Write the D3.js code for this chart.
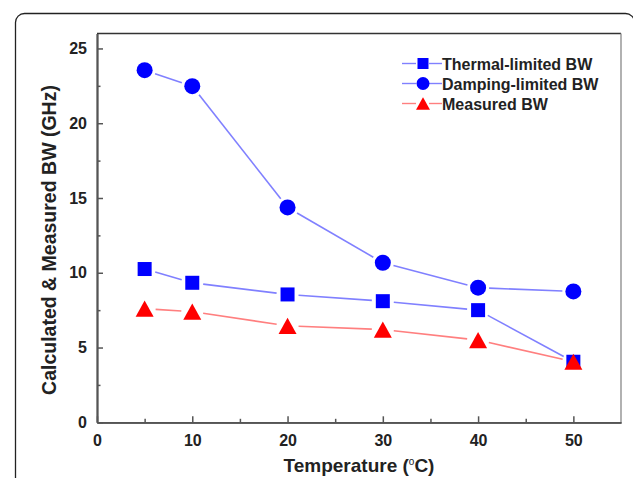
<!DOCTYPE html>
<html>
<head>
<meta charset="utf-8">
<script src="https://cdn.jsdelivr.net/npm/d3@7"></script>
<style>
  body { margin: 0; background: #fff; }
  text { font-family: "Liberation Sans", Arial, sans-serif; font-weight: bold; fill: #222; }
</style>
</head>
<body>
<div class="chart"></div>
<script>
const temps = [5, 10, 20, 30, 40, 50]
const thermalBW = [10.25, 9.33, 8.55, 8.1, 7.5, 4.05]
const dampingBW = [23.55, 22.48, 14.37, 10.67, 9.0, 8.75]
const measuredBW = [7.6, 7.4, 6.45, 6.2, 5.5, 4.05]
const xTicks = [0, 10, 20, 30, 40, 50]
const yTicks = [0, 5, 10, 15, 20, 25]
const seriesNames = ['Thermal-limited BW', 'Damping-limited BW', 'Measured BW']

const W = 633, H = 478
const margin = { top: 33.5, right: 12, bottom: 55.7, left: 97 },
    width = W - margin.left - margin.right,
    height = H - margin.top - margin.bottom

const root = d3.select('.chart')
    .append('svg')
    .attr('width', W)
    .attr('height', H)

// outer rounded frame
root.append('rect')
    .attr('x', 15.5).attr('y', 13.5)
    .attr('width', 619).attr('height', 520)
    .attr('rx', 9)
    .attr('fill', 'none')
    .attr('stroke', '#222')
    .attr('stroke-width', 1.3)

const svg = root.append('g')
    .attr('transform', `translate(${margin.left},${margin.top})`)

const x = d3.scaleLinear().domain([0, 55]).range([0, width])
const y = d3.scaleLinear().domain([0, 26]).range([height, 0])

// plot box top/right
svg.append('line').attr('x1', 0).attr('x2', width).attr('y1', 0).attr('y2', 0)
    .attr('stroke', '#333').attr('stroke-width', 1.5)
svg.append('line').attr('x1', width).attr('x2', width).attr('y1', 0).attr('y2', height)
    .attr('stroke', '#888').attr('stroke-width', 1.3)

const styleAxis = g => {
    g.select('.domain').attr('stroke', '#555').attr('stroke-width', 1.8)
    g.selectAll('.tick line').attr('stroke', '#555').attr('stroke-width', 1.5)
    g.selectAll('text').attr('fill', '#222').style('font-size', '16px')
        .style('font-family', '"Liberation Sans", Arial, sans-serif').style('font-weight', 'bold')
}

svg.append('g')
    .attr('transform', `translate(0,${height})`)
    .call(d3.axisBottom(x).tickValues([5, 15, 25, 35, 45]).tickSizeInner(-3.5).tickSizeOuter(0).tickFormat(''))
    .call(styleAxis)
svg.append('g')
    .attr('transform', `translate(0,${height})`)
    .call(d3.axisBottom(x).tickValues(xTicks).tickSizeInner(-6).tickSizeOuter(0).tickPadding(12))
    .call(styleAxis)

svg.append('g')
    .call(d3.axisLeft(y).tickValues([2.5, 7.5, 12.5, 17.5, 22.5]).tickSizeInner(-3.5).tickSizeOuter(0).tickFormat(''))
    .call(styleAxis)
svg.append('g')
    .call(d3.axisLeft(y).tickValues(yTicks).tickSizeInner(-6).tickSizeOuter(0).tickPadding(10))
    .call(styleAxis)

// axis titles
const xTitle = svg.append('text')
    .attr('x', width / 2).attr('y', height + 50)
    .attr('text-anchor', 'middle')
    .style('font-size', '19px')
xTitle.append('tspan').text('Temperature (')
xTitle.append('tspan').text('o').attr('dy', -7).style('font-size', '10px').style('font-weight', 'normal')
xTitle.append('tspan').text('C)').attr('dy', 7)

svg.append('text')
    .attr('transform', 'rotate(-90)')
    .attr('x', -(240 - margin.top)).attr('y', 56 - margin.left)
    .attr('text-anchor', 'middle')
    .style('font-size', '19.5px')
    .text('Calculated & Measured BW (GHz)')

// markers
const triPath = s => {
    const h = s * 0.9
    return `M0,${-h / 2}L${s / 2},${h / 2}L${-s / 2},${h / 2}Z`
}
const marker = (g, kind, color, s) => {
    if (kind === 'square') {
        g.append('rect').attr('x', -s / 2).attr('y', -s / 2).attr('width', s).attr('height', s).attr('fill', color)
    } else if (kind === 'circle') {
        g.append('circle').attr('r', s / 2).attr('fill', color)
    } else {
        g.append('path').attr('d', triPath(s)).attr('fill', color)
    }
}

const series = [
    { name: seriesNames[0], values: thermalBW, kind: 'square', color: '#0000ff', line: '#8080ff', size: 14 },
    { name: seriesNames[1], values: dampingBW, kind: 'circle', color: '#0000ff', line: '#8080ff', size: 16 },
    { name: seriesNames[2], values: measuredBW, kind: 'triangle', color: '#ff0000', line: '#ff7f7f', size: 18 }
]

const gap = 11
series.forEach(s => {
    const pts = temps.map((t, i) => [x(t), y(s.values[i])])
    for (let i = 0; i < pts.length - 1; i++) {
        const [x1, y1] = pts[i], [x2, y2] = pts[i + 1]
        const len = Math.hypot(x2 - x1, y2 - y1)
        if (len <= 2 * gap) continue
        const ux = (x2 - x1) / len, uy = (y2 - y1) / len
        svg.append('line')
            .attr('x1', x1 + ux * gap).attr('y1', y1 + uy * gap)
            .attr('x2', x2 - ux * gap).attr('y2', y2 - uy * gap)
            .attr('stroke', s.line).attr('stroke-width', 1.6)
    }
})
series.forEach(s => {
    temps.forEach((t, i) => {
        const g = svg.append('g').attr('transform', `translate(${x(t)},${y(s.values[i])})`)
        marker(g, s.kind, s.color, s.size)
    })
})

// legend
const legend = root.append('g').attr('class', 'legend')
series.forEach((s, i) => {
    const ly = 63.5 + i * 20
    legend.append('line').attr('x1', 402).attr('x2', 416).attr('y1', ly).attr('y2', ly)
        .attr('stroke', s.line).attr('stroke-width', 1.4)
    legend.append('line').attr('x1', 429).attr('x2', 442).attr('y1', ly).attr('y2', ly)
        .attr('stroke', s.line).attr('stroke-width', 1.4)
    const g = legend.append('g').attr('transform', `translate(423,${ly})`)
    marker(g, s.kind, s.color, s.kind === 'square' ? 11 : s.kind === 'circle' ? 13 : 14)
    legend.append('text')
        .attr('x', 442).attr('y', ly + 6)
        .style('font-size', '16px')
        .text(s.name)
})
</script>
</body>
</html>
